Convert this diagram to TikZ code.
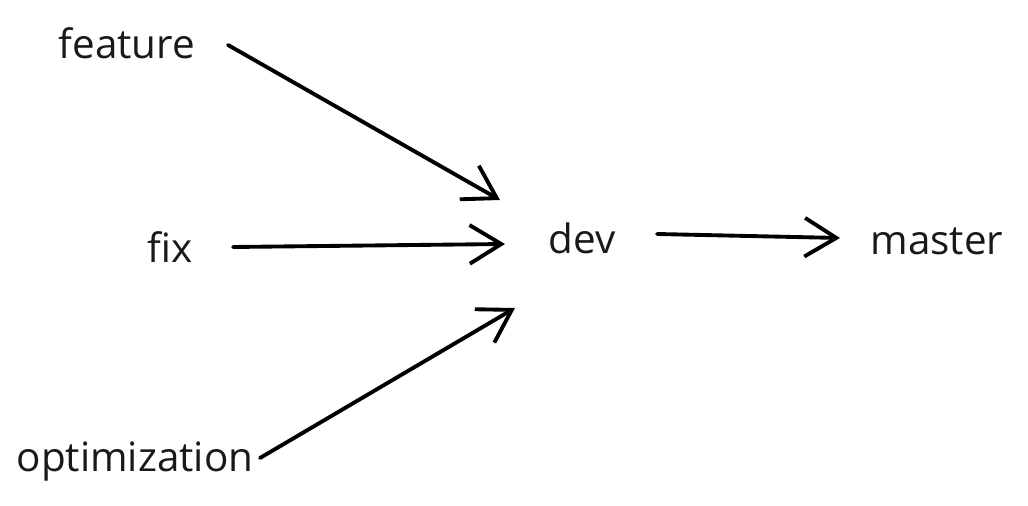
\documentclass[tikz,border=0pt]{standalone}
\usepackage{fontspec}
\setmainfont{Open Sans}
\usetikzlibrary{arrows.meta}
\begin{document}
\begin{tikzpicture}[x=0.02cm,y=-0.02cm,
  lbl/.style={font=\fontsize{23}{26}\selectfont, text=black!90, inner sep=0pt},
  arr/.style={line width=2.2pt, line cap=round, -{Straight Barb[length=18pt,width=22pt,line width=2.2pt]}}]
\useasboundingbox (0,0) rectangle (1028,506);
\node[lbl] (feature) at (127,43) {feature};
\node[lbl] (fix) at (170,247) {fix};
\node[lbl] (opt) at (135,462) {optimization};
\node[lbl] (dev) at (582,238) {dev};
\node[lbl] (master) at (937,241) {master};
\coordinate (fs) at (228,45);
\coordinate (fe) at (500,200);
\coordinate (xs) at (233,247);
\coordinate (xe) at (505,244);
\coordinate (os) at (260,458);
\coordinate (oe) at (515,308);
\coordinate (ds) at (657,234);
\coordinate (de) at (840,238);
\draw[arr] (fs) -- (fe);
\draw[arr] (xs) -- (xe);
\draw[arr] (os) -- (oe);
\draw[arr] (ds) -- (de);
\end{tikzpicture}
\end{document}
